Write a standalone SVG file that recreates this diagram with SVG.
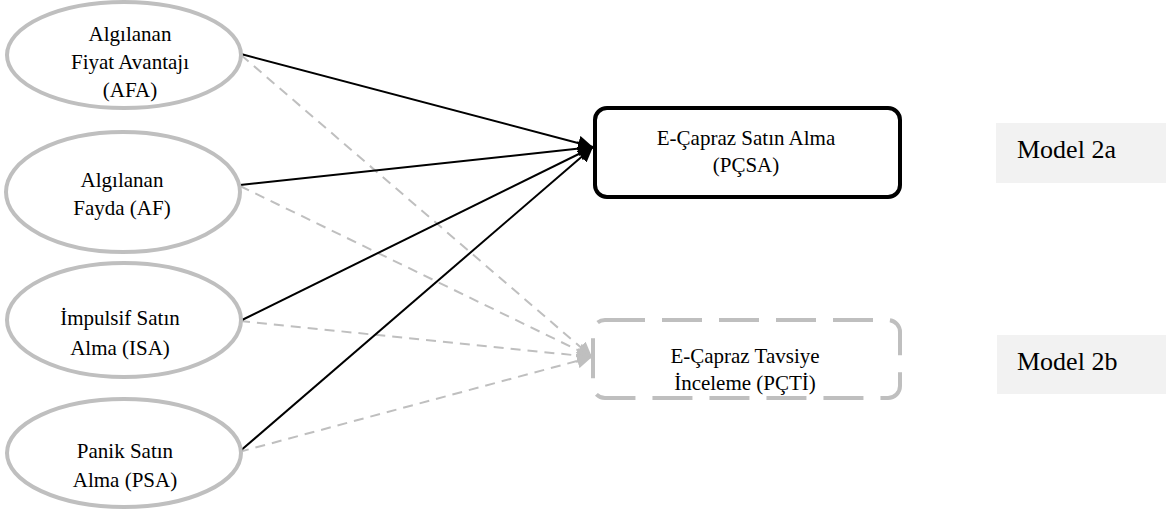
<svg xmlns="http://www.w3.org/2000/svg" width="1166" height="512" viewBox="0 0 1166 512">
<style>
.ell{fill:#ffffff;stroke:#bfbfbf;stroke-width:4}
.t{font-family:'Liberation Serif','DejaVu Serif',serif;font-size:21px;fill:#000;text-anchor:middle}
.m{font-family:'Liberation Serif','DejaVu Serif',serif;font-size:26px;fill:#000}
.solid{stroke:#000;stroke-width:2;fill:none}
.dash{stroke:#bfbfbf;stroke-width:2;fill:none;stroke-dasharray:10 7}
</style>
<defs>
<marker id="ab" markerUnits="userSpaceOnUse" markerWidth="15" markerHeight="15" viewBox="0 0 15 15" refX="15" refY="7.5" orient="auto">
<path d="M0,0 L15,7.5 L0,15 z" fill="#000"/>
</marker>
<marker id="ag" markerUnits="userSpaceOnUse" markerWidth="15" markerHeight="15" viewBox="0 0 15 15" refX="15" refY="7.5" orient="auto">
<path d="M0,0 L15,7.5 L0,15 z" fill="#bfbfbf"/>
</marker>
</defs>
<rect width="1166" height="512" fill="#ffffff"/>
<g id="connectors">
<line class="dash" x1="241" y1="55" x2="592" y2="357" marker-end="url(#ag)"/>
<line class="dash" x1="240" y1="186" x2="592" y2="357" marker-end="url(#ag)"/>
<line class="dash" x1="240" y1="321" x2="592" y2="357" marker-end="url(#ag)"/>
<line class="dash" x1="239" y1="452" x2="592" y2="357" marker-end="url(#ag)"/>
<line class="solid" x1="241" y1="54" x2="593" y2="147" marker-end="url(#ab)"/>
<line class="solid" x1="240" y1="185" x2="593" y2="147" marker-end="url(#ab)"/>
<line class="solid" x1="240" y1="321" x2="593" y2="147" marker-end="url(#ab)"/>
<line class="solid" x1="239" y1="452" x2="593" y2="147" marker-end="url(#ab)"/>
</g>
<g id="afa">
<ellipse class="ell" cx="124" cy="55" rx="117" ry="53"/>
<text class="t" x="130" y="41">Algılanan</text>
<text class="t" x="130" y="69">Fiyat Avantajı</text>
<text class="t" x="130" y="97">(AFA)</text>
</g>
<g id="af">
<ellipse class="ell" cx="123" cy="192" rx="117" ry="60"/>
<text class="t" x="122" y="187">Algılanan</text>
<text class="t" x="122" y="215">Fayda (AF)</text>
</g>
<g id="isa">
<ellipse class="ell" cx="124" cy="320" rx="117" ry="57"/>
<text class="t" x="120" y="325">İmpulsif Satın</text>
<text class="t" x="120" y="355">Alma (ISA)</text>
</g>
<g id="psa">
<ellipse class="ell" cx="124" cy="453" rx="117" ry="54"/>
<text class="t" x="125" y="458">Panik Satın</text>
<text class="t" x="125" y="487">Alma (PSA)</text>
</g>
<g id="pcsa">
<rect x="595" y="108" width="305" height="89" rx="12" ry="12" fill="#ffffff" stroke="#000" stroke-width="4"/>
<text class="t" x="746" y="145">E-Çapraz Satın Alma</text>
<text class="t" x="746" y="172">(PÇSA)</text>
</g>
<g id="pcti">
<rect x="593" y="320" width="307" height="78" rx="12" ry="12" fill="#ffffff" stroke="#bfbfbf" stroke-width="4" stroke-dasharray="40 17"/>
<text class="t" x="745" y="363">E-Çapraz Tavsiye</text>
<text class="t" x="745" y="390">İnceleme (PÇTİ)</text>
</g>
<g id="model2a">
<rect x="996" y="123" width="170" height="60" fill="#f2f2f2"/>
<text class="m" x="1017" y="158">Model 2a</text>
</g>
<g id="model2b">
<rect x="997" y="335" width="169" height="59" fill="#f2f2f2"/>
<text class="m" x="1017" y="370">Model 2b</text>
</g>
</svg>
